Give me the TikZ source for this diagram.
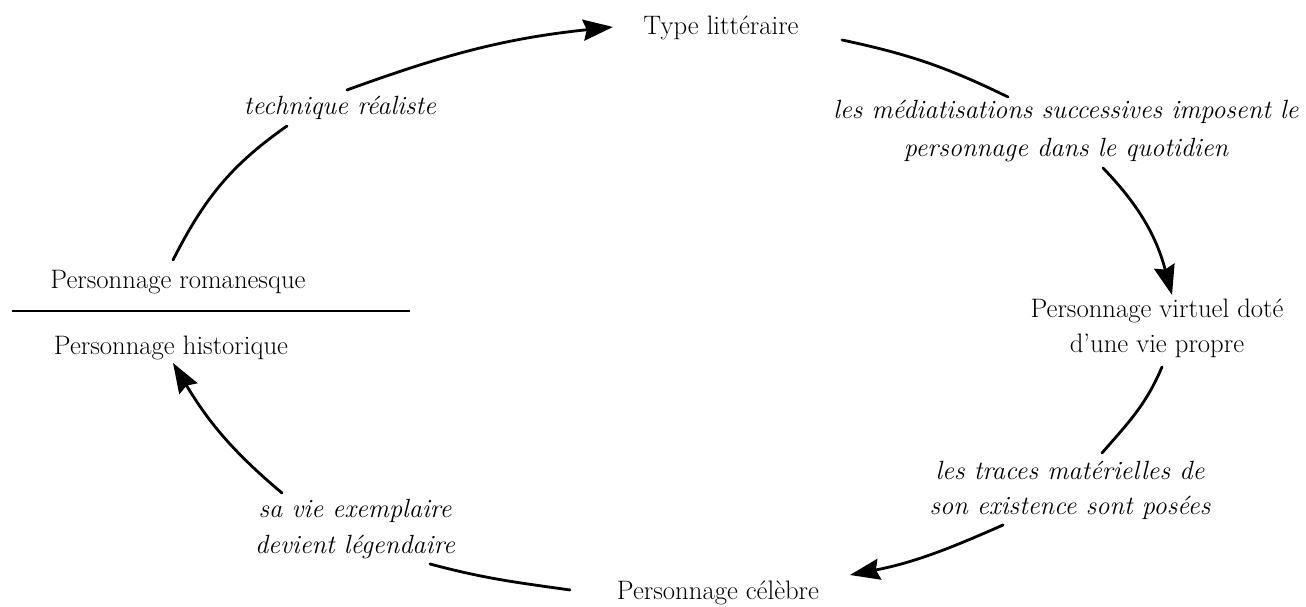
\documentclass[tikz,border=0pt]{standalone}
\usepackage{tikz}
\usetikzlibrary{calc,arrows.meta}

\begin{document}
\begin{tikzpicture}[x=0.02cm,y=0.02cm,font=\fontsize{15.2}{20}\selectfont,
  stage/.style={inner sep=0pt,align=center},
  step lbl/.style={inner sep=0pt,align=center,font=\fontsize{15}{20}\selectfont\itshape},
  link/.style={line width=1.6pt,line cap=round},
  cycle arrow/.style={link,-{Stealth[length=17pt,width=12pt,inset=2pt]}}]
\useasboundingbox (0,0) rectangle (1306,607);
% the four states of the character
\node[stage] (type) at (721,579) {Type littéraire};
\node[stage] (virt) at (1157,279) {Personnage virtuel doté\\ d'une vie propre};
\node[stage] (cel) at (718,14) {Personnage célèbre};
\node[stage] (rom) at (178,325) {Personnage romanesque};
\node[stage] (hist) at (171,259) {Personnage historique};
\draw[line width=1.2pt] (12,296) -- (410,296);
% what moves it along
\node[step lbl] (tech) at (340,499) {technique réaliste};
\node[step lbl] (med) at (1066,476) {les médiatisations successives imposent le\\[2pt] personnage dans le quotidien};
\node[step lbl] (traces) at (1070,117) {les traces matérielles de\\ son existence sont posées};
\node[step lbl] (vie) at (355,78) {sa vie exemplaire\\ devient légendaire};
\draw[link] ($(rom)+(-5,22)$) to[out=63,in=-145] ($(tech)+(-53,-18)$);
\draw[cycle arrow] ($(tech)+(7,18)$) to[out=20,in=186] ($(type)+(-108,1)$);
\draw[link] ($(type)+(121,-12)$) to[out=-12,in=154] ($(med)+(-58,34)$);
\draw[cycle arrow] ($(med)+(37,-37)$) to[out=-46,in=105] ($(virt)+(15,33)$);
\draw[link] ($(virt)+(5,-39)$) to[out=-113,in=49] ($(traces)+(32,37)$);
\draw[cycle arrow] ($(traces)+(-67,-35)$) to[out=204,in=11] ($(cel)+(132,18)$);
\draw[link] ($(cel)+(-148,3)$) to[out=172,in=-15] ($(vie)+(75,-35)$);
\draw[cycle arrow] ($(vie)+(-73,36)$) to[out=140,in=-59] ($(hist)+(2,-15)$);
\end{tikzpicture}
\end{document}
